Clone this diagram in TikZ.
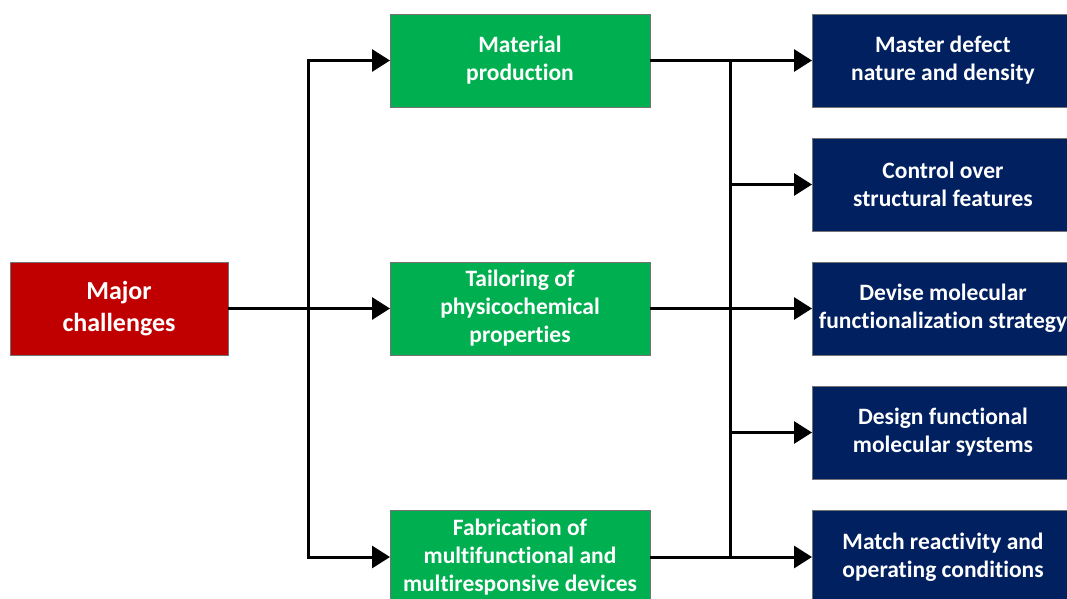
\documentclass[tikz,border=0pt]{standalone}
\usepackage{fontspec}
\setmainfont[Ligatures=CommonOff]{Carlito}
\usetikzlibrary{arrows.meta}

\definecolor{challred}{HTML}{C00000}
\definecolor{prodgreen}{HTML}{00B050}
\definecolor{goalblue}{HTML}{002060}

\tikzset{
  box/.style={outer sep=0, inner sep=0, draw=black!55, line width=0.8pt, text=white, align=center, minimum height=93pt, font=\bfseries\fontsize{23.5}{28}\selectfont},
  chall/.style={box, fill=challred, minimum width=218pt, font=\bfseries\fontsize{26}{32}\selectfont},
  prod/.style={box, fill=prodgreen, minimum width=260pt},
  goal/.style={box, fill=goalblue, minimum width=262pt},
  link/.style={line width=3pt, line join=miter},
  arr/.style={link, -{Triangle[length=18pt,width=22pt]}}
}

\begin{document}
\begin{tikzpicture}[x=1pt, y=-1pt]
  \useasboundingbox (0,0) rectangle (1067,598);

  \node[chall] (chall) at (119,308.5) {Major\\challenges};

  \node[prod] (prod1) at (520,60.5) {Material\\production};
  \node[prod] (prod2) at (520,308.5) {Tailoring of\\physicochemical\\properties};
  \node[prod] (prod3) at (520,557) {Fabrication of\\multifunctional and\\multiresponsive devices};

  \node[goal] (goal1) at (943,60.5) {Master defect\\nature and density};
  \node[goal] (goal2) at (943,184.5) {Control over\\structural features};
  \node[goal] (goal3) at (943,308.5) {Devise molecular\\functionalization strategy};
  \node[goal] (goal4) at (943,432.5) {Design functional\\molecular systems};
  \node[goal] (goal5) at (943,557) {Match reactivity and\\operating conditions};

  % split points
  \coordinate (lsplit) at (308,308.5);
  \coordinate (rsplit) at (730,308.5);

  % challenges -> production
  \draw[arr] (chall.east) -- (prod2.west);
  \draw[arr] (lsplit) |- (prod1.west);
  \draw[arr] (lsplit) |- (prod3.west);

  % production -> goals
  \draw[arr] (prod1.east) -- (goal1.west);
  \draw[arr] (prod2.east) -- (goal3.west);
  \draw[arr] (prod3.east) -- (goal5.west);
  \draw[link] (rsplit |- prod1.east) -- (rsplit |- prod3.east);
  \draw[arr] (rsplit |- goal2.west) -- (goal2.west);
  \draw[arr] (rsplit |- goal4.west) -- (goal4.west);
\end{tikzpicture}
\end{document}
